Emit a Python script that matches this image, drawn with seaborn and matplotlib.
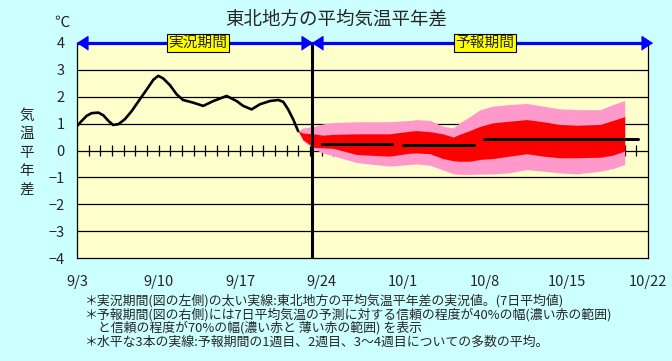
import numpy as np
import pandas as pd
import matplotlib
matplotlib.use("Agg")
import matplotlib.pyplot as plt
import seaborn as sns

# ---------------- data ----------------
# days counted from 9/3 (day 0)
obs_day = [0.0, 0.4, 0.83, 1.26, 1.83, 2.26, 2.7, 3.1, 3.55, 4.1, 4.7, 5.4, 6.0,
           6.55, 6.97, 7.4, 7.98, 8.55, 9.1, 9.97, 10.83, 11.7, 12.84, 13.7,
           14.26, 14.98, 15.7, 16.55, 17.27, 17.7, 18.12, 18.55, 18.98]
obs_val = [0.91, 1.10, 1.29, 1.39, 1.41, 1.31, 1.10, 0.95, 0.98, 1.16, 1.47, 1.91,
           2.28, 2.63, 2.78, 2.68, 2.43, 2.09, 1.88, 1.78, 1.66, 1.84, 2.03, 1.84,
           1.66, 1.53, 1.72, 1.84, 1.88, 1.81, 1.53, 1.16, 0.72]

band_day = [18.98, 19.4, 20.3, 21.1, 22.0, 24.0, 26.8, 28.6, 29.1, 30.3, 31.4, 32.3,
            32.8, 33.7, 34.6, 35.7, 37.1, 38.6, 40.0, 41.4, 42.9, 44.9, 46.0, 47.0]
pink_hi = [0.72, 0.84, 0.89, 0.99, 1.04, 1.07, 1.07, 1.12, 1.15, 1.12, 0.90, 0.84,
           1.02, 1.26, 1.52, 1.65, 1.71, 1.75, 1.65, 1.55, 1.52, 1.52, 1.71, 1.86]
red_hi = [0.72, 0.65, 0.62, 0.57, 0.60, 0.62, 0.62, 0.72, 0.74, 0.70, 0.62, 0.50,
          0.60, 0.74, 0.90, 1.03, 1.09, 1.15, 1.07, 0.97, 0.94, 0.97, 1.12, 1.26]
red_lo = [0.72, 0.40, 0.12, 0.10, 0.08, -0.15, -0.21, -0.10, -0.09, -0.12, -0.30, -0.38,
          -0.40, -0.40, -0.33, -0.30, -0.21, -0.12, -0.21, -0.27, -0.27, -0.25, -0.17, -0.02]
pink_lo = [0.72, 0.35, 0.06, -0.09, -0.20, -0.45, -0.58, -0.52, -0.50, -0.55, -0.72, -0.87,
           -0.89, -0.89, -0.88, -0.87, -0.83, -0.71, -0.77, -0.83, -0.87, -0.77, -0.67, -0.52]

mean_name = ["1週目", "2週目", "3～4週目"]
mean_start = [21.0, 28.0, 34.9]
mean_end = [27.0, 34.1, 48.1]
mean_val = [0.26, 0.20, 0.42]

split_day = 20.2          # boundary between 実況 and 予報
x_max = 49
xtick_days = [0, 7, 14, 21, 28, 35, 42, 49]
xtick_labels = ["9/3", "9/10", "9/17", "9/24", "10/1", "10/8", "10/15", "10/22"]
yticks = [-4, -3, -2, -1, 0, 1, 2, 3, 4]
period_labels = ["実況期間", "予報期間"]
period_label_x = [10.4, 35.0]
zero_tick_days = list(range(1, 49))

title = "東北地方の平均気温平年差"
unit = "℃"
ylabel_chars = ["気", "温", "平", "年", "差"]
notes = [
    "＊実況期間(図の左側)の太い実線:東北地方の平均気温平年差の実況値。(7日平均値)",
    "＊予報期間(図の右側)には7日平均気温の予測に対する信頼の程度が40%の幅(濃い赤の範囲)",
    "　と信頼の程度が70%の幅(濃い赤と 薄い赤の範囲) を表示",
    "＊水平な3本の実線:予報期間の1週目、2週目、3～4週目についての多数の平均。",
]

# ---------------- style ----------------
sns.set_style("white")
plt.rcParams["font.family"] = ["Noto Sans CJK JP", "DejaVu Sans"]
plt.rcParams["axes.unicode_minus"] = True

W, H = 672, 361
fig = plt.figure(figsize=(W / 100, H / 100), dpi=100, facecolor="#CCFFFF")
L, R, T, B = 77, 648, 43, 258
ax = fig.add_axes([L / W, 1 - B / H, (R - L) / W, (B - T) / H])
ax.set_facecolor("#FFFFCC")
ax.set_xlim(0, x_max)
ax.set_ylim(-4, 4)

# gridlines
for v in yticks[1:-1]:
    ax.axhline(v, color="black", lw=0.9, zorder=1)
# day ticks on zero line
ax.vlines(zero_tick_days, -0.21, 0.21, color="black", lw=0.9, zorder=1)

# forecast bands
ax.fill_between(band_day, pink_lo, pink_hi, color="#FF99CC", lw=0, zorder=2)
ax.fill_between(band_day, red_lo, red_hi, color="#FF0000", lw=0, zorder=3)

# observed line
obs_df = pd.DataFrame({"day": obs_day, "val": obs_val})
sns.lineplot(data=obs_df, x="day", y="val", ax=ax, color="black", lw=1.9,
             sort=False, zorder=5)

# mean lines
mean_df = pd.DataFrame({
    "week": [n for n in mean_name for _ in range(2)],
    "day": [d for s, e in zip(mean_start, mean_end) for d in (s, e)],
    "val": [v for v in mean_val for _ in range(2)],
})
sns.lineplot(data=mean_df, x="day", y="val", units="week", estimator=None, ax=ax,
             color="black", lw=2.2, zorder=5, legend=False)

# split line
ax.axvline(split_day, color="black", lw=2.2, zorder=6)

# top blue arrow line
ax.plot([0, x_max], [4, 4], color="#0000FF", lw=2.3, clip_on=False, zorder=7,
        solid_capstyle="butt")
left_tri = [(0, 0), (1, 0.65), (1, -0.65)]
right_tri = [(0, 0), (-1, 0.65), (-1, -0.65)]
for xpos, verts in [(0, left_tri), (split_day, right_tri), (split_day, left_tri),
                    (x_max + 0.35, right_tri)]:
    ax.plot([xpos], [4], marker=verts, markersize=15, color="#0000FF", mec="#0000FF",
            clip_on=False, zorder=8)
for lab, xp in zip(period_labels, period_label_x):
    ax.text(xp, 4, lab, ha="center", va="center", fontsize=10.6, zorder=9,
            bbox=dict(boxstyle="square,pad=0.12", fc="#FFFF00", ec="black", lw=0.8))

# spines / ticks
ax.spines["top"].set_visible(False)
for s in ["left", "right", "bottom"]:
    ax.spines[s].set_color("black")
    ax.spines[s].set_linewidth(0.9)
ax.set_yticks(yticks)
ax.set_yticklabels([str(v).replace("-", "−") for v in yticks])
ax.tick_params(axis="y", length=0, pad=9, labelsize=10.5)
ax.set_xticks(xtick_days)
ax.set_xticklabels(xtick_labels)
ax.tick_params(axis="x", direction="in", length=4, width=0.9, pad=12, labelsize=10.5)
ax.set_xlabel("")
ax.set_ylabel("")

# texts
fig.text(336 / W, 1 - 20 / H, title, ha="center", va="center", fontsize=13.3)
fig.text(62 / W, 1 - 22 / H, unit, ha="center", va="center", fontsize=11)
for i, ch in enumerate(ylabel_chars):
    fig.text(27 / W, 1 - (116 + 18.3 * i) / H, ch, ha="center", va="center", fontsize=10.5)
note_y = [301, 315, 328, 342]
for txt, yy in zip(notes, note_y):
    fig.text(85 / W, 1 - yy / H, txt, ha="left", va="center", fontsize=9.3)

fig.savefig("out.png", dpi=100, facecolor=fig.get_facecolor())
